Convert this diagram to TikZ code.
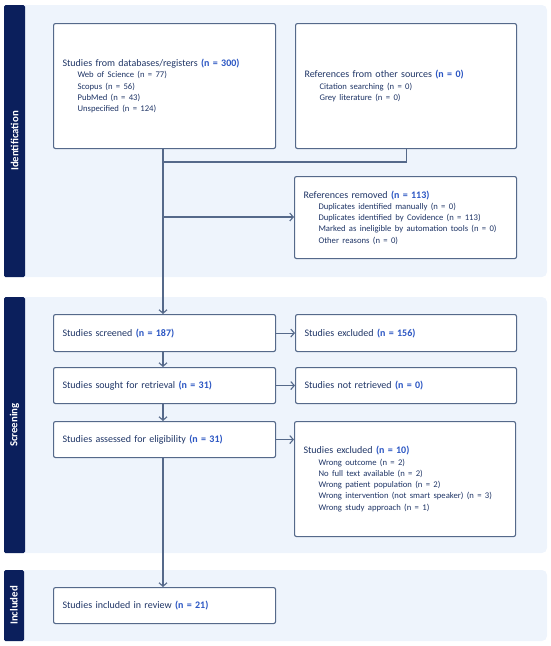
\documentclass[tikz,border=0pt]{standalone}
\usepackage{fontspec}
\setmainfont{Carlito}
\usetikzlibrary{arrows.meta,calc}
\definecolor{navy}{HTML}{1F3566}
\definecolor{nblue}{HTML}{2B56C3}
\definecolor{panel}{HTML}{EEF4FC}
\definecolor{bar}{HTML}{0B1F5C}
\definecolor{edge}{HTML}{55698A}
\newcommand{\nb}[1]{\textbf{\textcolor{nblue}{#1}}}
\newcommand{\ind}[1]{\mbox{\hspace*{15pt}\fontsize{8.65}{11.3}\selectfont #1}}
\begin{document}
\begin{tikzpicture}[x=1pt,y=-1pt,
  panelbox/.style={fill=panel,draw=none,rounded corners=5pt},
  barbox/.style={fill=bar,draw=none,rounded corners=1.5pt},
  barlabel/.style={rotate=90,text=white,font=\fontsize{10.8}{12}\selectfont\bfseries},
  flowbox/.style={draw=edge,fill=white,line width=1.1pt,rounded corners=2pt,
    anchor=north west,inner xsep=9pt,inner ysep=0pt,align=left,
    text=navy,font=\fontsize{10}{11.3}\selectfont},
  conn/.style={draw=edge,line width=1.1pt},
  arr/.style={conn,-{Straight Barb[length=3.5pt,width=8pt,line width=1.1pt]}}
]
\useasboundingbox (0,0) rectangle (550,646);
% panels
\path[panelbox] (20,5) rectangle (547,277);
\path[panelbox] (20,297) rectangle (547,553);
\path[panelbox] (20,570) rectangle (547,641);
\path[barbox] (4,5) rectangle (25,277);
\path[barbox] (4,297) rectangle (25,553);
\path[barbox] (4,570) rectangle (24,641);
\node[barlabel] (lid) at (14.5,141) {Identification};
\node[barlabel] (lsc) at (14.5,425) {Screening};
\node[barlabel] (lin) at (14,605.5) {Included};
% boxes
\node[flowbox,text width=204pt,minimum height=125pt] (db) at (53,23)
 {Studies from databases/registers \nb{(n = 300)}\\
  \ind{Web of Science (n = 77)}\\
  \ind{Scopus (n = 56)}\\
  \ind{PubMed (n = 43)}\\
  \ind{Unspecified (n = 124)}};
\node[flowbox,text width=203pt,minimum height=125pt] (oth) at (295,23)
 {References from other sources \nb{(n = 0)}\\
  \ind{Citation searching (n = 0)}\\
  \ind{Grey literature (n = 0)}};
\node[flowbox,text width=204pt,minimum height=82pt] (rem) at (294,176)
 {References removed \nb{(n = 113)}\\
  \ind{Duplicates identified manually (n = 0)}\\
  \ind{Duplicates identified by Covidence (n = 113)}\\
  \ind{Marked as ineligible by automation tools (n = 0)}\\
  \ind{Other reasons (n = 0)}};
\node[flowbox,text width=204pt,minimum height=37pt] (scr) at (53,314)
 {Studies screened \nb{(n = 187)}};
\node[flowbox,text width=203pt,minimum height=37pt] (exc) at (295,314)
 {Studies excluded \nb{(n = 156)}};
\node[flowbox,text width=204pt,minimum height=36pt] (sou) at (53,367)
 {Studies sought for retrieval \nb{(n = 31)}};
\node[flowbox,text width=203pt,minimum height=36pt] (nre) at (295,367)
 {Studies not retrieved \nb{(n = 0)}};
\node[flowbox,text width=204pt,minimum height=36pt] (ass) at (53,421)
 {Studies assessed for eligibility \nb{(n = 31)}};
\node[flowbox,text width=203pt,minimum height=115pt] (ex2) at (294,421)
 {Studies excluded \nb{(n = 10)}\\
  \ind{Wrong outcome (n = 2)}\\
  \ind{No full text available (n = 2)}\\
  \ind{Wrong patient population (n = 2)}\\
  \ind{Wrong intervention (not smart speaker) (n = 3)}\\
  \ind{Wrong study approach (n = 1)}};
\node[flowbox,text width=204pt,minimum height=36pt] (inc) at (53,587)
 {Studies included in review \nb{(n = 21)}};
% connectors
\coordinate (jn) at (163,162);
\coordinate (br) at (163,217);
\draw[arr] (db.south -| jn) -- (scr.north -| jn);
\draw[conn] (oth.south) |- (jn);
\draw[arr] (br) -- (br -| rem.west);
\draw[arr] (scr.south -| jn) -- (sou.north -| jn);
\draw[arr] (sou.south -| jn) -- (ass.north -| jn);
\draw[arr] (ass.south -| jn) -- (inc.north -| jn);
\draw[arr] (scr.east) -- (scr.east -| exc.west);
\draw[arr] (sou.east) -- (sou.east -| nre.west);
\draw[arr] (ass.east) -- (ass.east -| ex2.west);
\end{tikzpicture}
\end{document}
